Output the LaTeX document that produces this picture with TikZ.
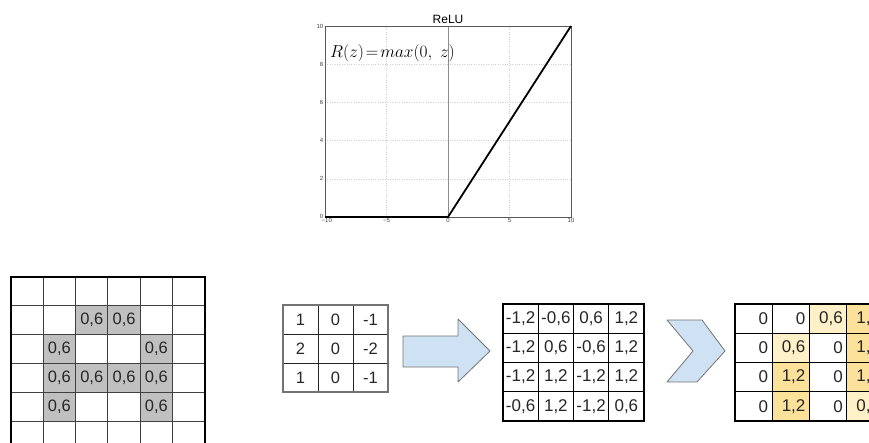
\documentclass[tikz,border=0pt]{standalone}
\usepackage{fontspec}
\setsansfont{Liberation Sans}
\definecolor{arrowblue}{HTML}{CFE2F3}
\definecolor{lowyellow}{HTML}{FEF0C7}
\definecolor{highyellow}{HTML}{FCE19B}
\definecolor{cellgray}{HTML}{C0C0C0}
\begin{document}
\begin{tikzpicture}[x=1pt,y=-1pt,
    num/.style={font=\sffamily\fontsize{16.5}{16.5}\selectfont,text=black!85,inner sep=0pt},
    ticklabel/.style={font=\sffamily\fontsize{6}{6}\selectfont,text=black!75,inner sep=1.5pt},
    gridline/.style={black!75,line width=1pt},
    outline/.style={black,line width=1.7pt},
    bigarrow/.style={fill=arrowblue,draw=black!55,line width=0.8pt,line join=round}]
    \useasboundingbox (0,0) rectangle (869,443);
    \clip (0,0) rectangle (869,443);
    % ReLU plot
    \begin{scope}[shift={(448,217)},x=12.3pt,y=19.1pt]
        \foreach \t in {-5,5} \draw[black!18,dotted] (\t,0) -- (\t,10);
        \foreach \t in {2,4,6,8} \draw[black!18,dotted] (-10,\t) -- (10,\t);
        \draw[black!45] (0,0) -- (0,10);
        \draw[black!65,line width=0.6pt] (-10,0) rectangle (10,10);
        \foreach \t/\lab in {-5/−5,0/0,5/5,10/10} \node[ticklabel,below] (xt\t) at (\t,0) {\lab};
        \node[ticklabel,below right,xshift=-5pt] (xt-10) at (-10,0) {−10};
        \foreach \t in {2,4,...,10} \node[ticklabel,left] (yt\t) at (-10,\t) {\t};
        \node[ticklabel,left,yshift=1pt] (yt0) at (-10,0) {0};
        \draw[line width=1.8pt] (-10,0) -- (0,0) -- (10,10);
        \node[anchor=west,font=\fontsize{16}{16}\selectfont,inner sep=0pt] (formula) at (-9.6,8.6) {$R(z)\!=\!max(0,\ z)$};
        \node[above,font=\sffamily\fontsize{12}{12}\selectfont,inner sep=2pt] (title) at (0,10) {ReLU};
    \end{scope}
    % input image
    \foreach \r/\c in {1/2,1/3,2/1,2/4,3/1,3/2,3/3,3/4,4/1,4/4} {
        \fill[cellgray] ({11+\c*32.3},{277+\r*28.8}) rectangle +(32.3,28.8);
        \node[num] (in-\r-\c) at ({11+(\c+0.5)*32.3},{277+(\r+0.5)*28.8}) {0,6};
    }
    \foreach \c in {1,...,5} \draw[gridline] ({11+\c*32.3},277) -- ({11+\c*32.3},460);
    \foreach \r in {1,...,6} \draw[gridline] (11,{277+\r*28.8}) -- (205,{277+\r*28.8});
    \draw[outline] (11,460) -- (11,277) -- (205,277) -- (205,460);
    % kernel
    \foreach \r/\c/\v in {0/0/1,0/1/0,0/2/-1,1/0/2,1/1/0,1/2/-2,2/0/1,2/1/0,2/2/-1}
        \node[num] (k-\r-\c) at ({283+(\c+0.5)*35},{305+(\r+0.5)*29}) {\v};
    \foreach \c in {1,2} \draw[black!85,line width=0.8pt] ({283+\c*35},305) -- ({283+\c*35},392);
    \foreach \r in {1,2} \draw[black!85,line width=0.8pt] (283,{305+\r*29}) -- (388,{305+\r*29});
    \draw[black!55,line width=1.2pt] (283,305) rectangle (388,392);
    \filldraw[bigarrow] (403,336) -- (458,336) -- (458,319) -- (490,351) -- (458,382) -- (458,367) -- (403,367) -- cycle;
    % convolution result
    \foreach \r/\c/\v in {0/0/{-1,2},0/1/{-0,6},0/2/{0,6},0/3/{1,2},
                          1/0/{-1,2},1/1/{0,6},1/2/{-0,6},1/3/{1,2},
                          2/0/{-1,2},2/1/{1,2},2/2/{-1,2},2/3/{1,2},
                          3/0/{-0,6},3/1/{1,2},3/2/{-1,2},3/3/{0,6}}
        \node[num,font=\sffamily\fontsize{17}{17}\selectfont] (conv-\r-\c) at ({503+(\c+0.5)*35.25},{304+(\r+0.5)*29.25}) {\v};
    \foreach \c in {1,2,3} \draw[black,line width=0.9pt] ({503+\c*35.25},304) -- ({503+\c*35.25},421);
    \foreach \r in {1,2,3} \draw[black,line width=0.9pt] (503,{304+\r*29.25}) -- (644,{304+\r*29.25});
    \draw[outline] (503,304) rectangle (644,421);
    \filldraw[bigarrow] (667,320) -- (702,320) -- (725,351) -- (697,382) -- (667,382) -- (693,351) -- cycle;
    % after ReLU
    \foreach \r/\c/\v/\f in {0/0/0/white,0/1/0/white,0/2/{0,6}/lowyellow,0/3/{1,2}/highyellow,
                             1/0/0/white,1/1/{0,6}/lowyellow,1/2/0/white,1/3/{1,2}/highyellow,
                             2/0/0/white,2/1/{1,2}/highyellow,2/2/0/white,2/3/{1,2}/highyellow,
                             3/0/0/white,3/1/{1,2}/highyellow,3/2/0/white,3/3/{0,6}/lowyellow} {
        \fill[\f] ({735+\c*37.3},{304+\r*29.25}) rectangle +(37.3,29.25);
        \node[num,font=\sffamily\fontsize{17}{17}\selectfont,anchor=east] (relu-\r-\c) at ({735+(\c+1)*37.3-4},{304+(\r+0.5)*29.25}) {\v};
    }
    \foreach \c in {1,2,3} \draw[black,line width=0.9pt] ({735+\c*37.3},304) -- ({735+\c*37.3},421);
    \foreach \r in {1,2,3} \draw[black,line width=0.9pt] (735,{304+\r*29.25}) -- (884,{304+\r*29.25});
    \draw[outline] (735,304) rectangle (884,421);
\end{tikzpicture}
\end{document}
